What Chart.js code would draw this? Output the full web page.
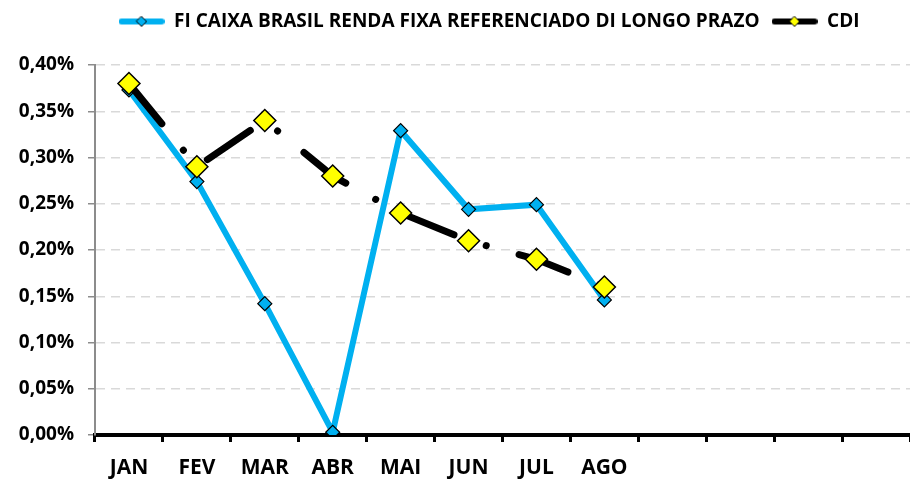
<!DOCTYPE html>
<html>
<head>
<meta charset="utf-8">
<script src="https://cdn.jsdelivr.net/npm/chart.js@4.4.1/dist/chart.umd.min.js"></script>
<style>
  html, body { margin: 0; padding: 0; background: #fff; overflow: hidden; }
  #wrap { width: 910px; height: 479px; position: relative; }
  canvas { display: block; }
</style>
</head>
<body>
<div id="wrap"><canvas id="lineChart"></canvas></div>
<script>
const months = ['JAN', 'FEV', 'MAR', 'ABR', 'MAI', 'JUN', 'JUL', 'AGO', '', '', '', ''];
const fundName = 'FI CAIXA BRASIL RENDA FIXA REFERENCIADO DI LONGO PRAZO';
const fundValues = [0.373, 0.274, 0.142, 0.003, 0.329, 0.244, 0.249, 0.146];
const cdiValues = [0.38, 0.29, 0.34, 0.28, 0.24, 0.21, 0.19, 0.16];
const yTicks = [0, 0.05, 0.10, 0.15, 0.20, 0.25, 0.30, 0.35, 0.40];

const BLUE = '#00b0f0';
const FONT = 'Open Sans';

// little legend samples: a line with a diamond on it
function legendSample(lineColor, markColor, size) {
  const c = document.createElement('canvas');
  c.width = 46; c.height = 12;
  const g = c.getContext('2d');
  g.strokeStyle = lineColor;
  g.lineWidth = 6;
  g.lineCap = 'round';
  g.beginPath(); g.moveTo(3, 6); g.lineTo(43, 6); g.stroke();
  g.fillStyle = markColor;
  g.strokeStyle = '#000';
  g.lineWidth = 1;
  g.beginPath();
  g.moveTo(23, 6 - size); g.lineTo(23 + size, 6); g.lineTo(23, 6 + size); g.lineTo(23 - size, 6);
  g.closePath(); g.fill(); g.stroke();
  return c;
}

// push the plot down below the legend, and nudge the legend right
const legendTweak = {
  id: 'legendTweak',
  afterInit(chart) {
    const lg = chart.legend;
    const fit = lg.fit;
    lg.fit = function () {
      fit.call(this);
      this.height += 24;
    };
    const draw = lg.draw;
    lg.draw = function () {
      this.ctx.save();
      this.ctx.translate(34, 0);
      draw.call(this);
      this.ctx.restore();
    };
  }
};

const ctx = document.getElementById('lineChart').getContext('2d');

new Chart(ctx, {
  type: 'line',
  data: {
    labels: months,
    datasets: [
      {
        label: fundName,
        data: fundValues,
        borderColor: BLUE,
        backgroundColor: BLUE,
        borderWidth: 6,
        pointStyle: 'rectRot',
        pointRadius: 7,
        pointBackgroundColor: BLUE,
        pointBorderColor: '#000',
        pointBorderWidth: 1.2,
        tension: 0,
        order: 2
      },
      {
        label: 'CDI',
        data: cdiValues,
        borderColor: '#000',
        backgroundColor: '#ffff00',
        borderWidth: 7,
        borderDash: [52, 34, 0.1, 34],
        borderCapStyle: 'round',
        pointStyle: 'rectRot',
        pointRadius: 11,
        pointBackgroundColor: '#ffff00',
        pointBorderColor: '#000',
        pointBorderWidth: 1.5,
        tension: 0,
        order: 1
      }
    ]
  },
  options: {
    responsive: true,
    maintainAspectRatio: false,
    animation: false,
    layout: { autoPadding: false, padding: { left: 0, right: 0, top: 0, bottom: 0 } },
    plugins: {
      tooltip: { enabled: false },
      legend: {
        position: 'top',
        align: 'center',
        labels: {
          usePointStyle: true,
          pointStyleWidth: 46,
          color: '#000',
          font: { family: FONT, size: 19, weight: 'bold' },
          padding: 12,
          generateLabels: (chart) => [
            { text: fundName, pointStyle: legendSample(BLUE, BLUE, 5), datasetIndex: 0, lineWidth: 0 },
            { text: 'CDI', pointStyle: legendSample('#000', '#ffff00', 5), datasetIndex: 1, lineWidth: 0 }
          ]
        }
      }
    },
    scales: {
      x: {
        offset: true,
        border: { display: true, color: '#000', width: 4 },
        grid: {
          offset: true,
          drawOnChartArea: false,
          drawTicks: true,
          tickLength: 7,
          color: '#000',
          lineWidth: 3
        },
        ticks: {
          color: '#000',
          padding: 13,
          maxRotation: 0,
          autoSkip: false,
          font: { family: FONT, size: 21, weight: 'bold' }
        },
        afterFit: (scale) => { scale.height = 44; }
      },
      y: {
        min: 0,
        max: 0.4,
        afterBuildTicks: (scale) => { scale.ticks = yTicks.map(v => ({ value: v })); },
        border: { display: true, color: '#8c8c8c', width: 2, dash: [9, 6] },
        grid: {
          color: '#d9d9d9',
          lineWidth: 1.5,
          tickColor: '#8c8c8c',
          tickLength: 7,
          tickBorderDash: [],
          drawTicks: true
        },
        ticks: {
          color: '#000',
          padding: 14,
          font: { family: FONT, size: 19, weight: 'bold' },
          callback: (v) => v.toFixed(2).replace('.', ',') + '%'
        },
        afterFit: (scale) => { scale.width = 95; }
      }
    }
  },
  plugins: [legendTweak]
});
</script>
</body>
</html>
